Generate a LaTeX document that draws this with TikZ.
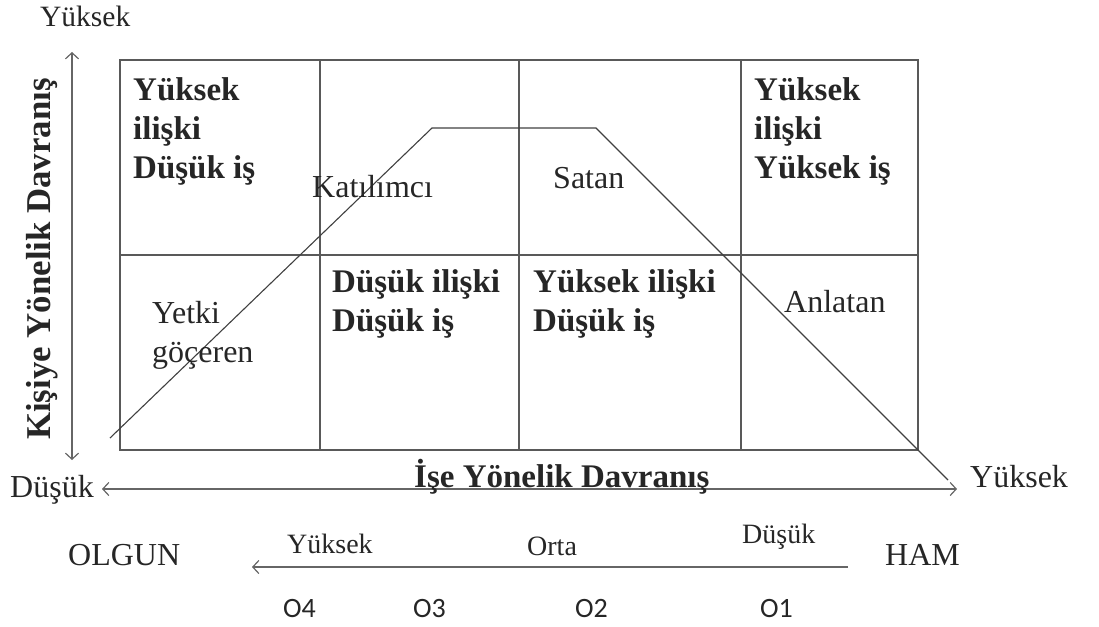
\documentclass[tikz,border=0pt]{standalone}
\usepackage{fontspec}
\setmainfont{Liberation Serif}
\newfontfamily\olabelfont{Carlito}
\usetikzlibrary{arrows.meta}

\begin{document}
\begin{tikzpicture}[x=1pt,y=-1pt,
  gridline/.style={draw=black!65, line width=1.6},
  axisline/.style={draw=black!60, line width=1.3},
  barb/.tip={Straight Barb[length=6,width=13,line width=1.2]},
  trendline/.style={draw=black!75, line width=1.1},
  lbl/.style={anchor=base west, text=black!85, font=\fontsize{32}{39}\selectfont},
  boldlbl/.style={lbl, align=left, font=\fontsize{33}{39}\selectfont\bfseries},
  olbl/.style={anchor=base west, text=black!85, font=\olabelfont\fontsize{28}{34}\selectfont}]
\tikzstyle{every node}+=[inner sep=0pt]
\useasboundingbox (0,0) rectangle (1099,626);

% grid of styles
\coordinate (nw) at (120,60);
\coordinate (se) at (918,450);
\draw [gridline] (nw) rectangle (se);
\draw [gridline] (120,255) -- (918,255);
\foreach \gx in {320,519,741}
  \draw [gridline] (\gx,60) -- (\gx,450);

% life cycle curve
\coordinate (curveA) at (110,438);
\coordinate (curveB) at (432,128);
\coordinate (curveC) at (596,128);
\coordinate (curveD) at (948,480);
\draw [trendline] (curveA) -- (curveB) -- (curveC) -- (curveD);

% axes
\node [lbl, font=\fontsize{29.5}{36}\selectfont] (ytop) at (40,27) {Yüksek};
\node [lbl] (xlow) at (10,497) {Düşük};
\node [lbl] (xhigh) at (970,487) {Yüksek};
\coordinate (yup) at (72,52);
\coordinate (ydown) at (72,460);
\coordinate (xleft) at (102,489);
\coordinate (xright) at (957,489);
\draw [axisline, barb-barb] (ydown) -- (yup);
\draw [axisline, barb-barb] (xleft) -- (xright);
\node [rotate=90, text=black!85, font=\fontsize{34.8}{40}\selectfont\bfseries]
  (yaxis) at (42,259) {Kişiye Yönelik Davranış};
\node [lbl, font=\fontsize{33}{39}\selectfont\bfseries] (xaxis) at (414,487) {İşe Yönelik Davranış};

% cells, upper row (base = last line)
\node [boldlbl] (iliskiDusukIs) at (133,178) {Yüksek\\ilişki\\Düşük iş};
\node [lbl] (katilimci) at (312,197) {Katılımcı};
\node [lbl] (satan) at (553,188) {Satan};
\node [boldlbl] (iliskiYuksekIs) at (754,178) {Yüksek\\ilişki\\Yüksek iş};

% cells, lower row
\node [lbl, align=left] (yetki) at (152,362) {Yetki\\göçeren};
\node [boldlbl] (dusukDusuk) at (332,331) {Düşük ilişki\\Düşük iş};
\node [boldlbl] (yuksekDusuk) at (533,331) {Yüksek ilişki\\Düşük iş};
\node [lbl] (anlatan) at (784,312) {Anlatan};

% maturity scale
\node [lbl] (olgun) at (68,565) {OLGUN};
\node [lbl] (ham) at (885,565) {HAM};
\node [lbl, font=\fontsize{28}{34}\selectfont] (olgYuksek) at (287,553) {Yüksek};
\node [lbl, font=\fontsize{28}{34}\selectfont] (olgOrta) at (527,555) {Orta};
\node [lbl, font=\fontsize{28}{34}\selectfont] (olgDusuk) at (742,543) {Düşük};
\coordinate (scaleR) at (848,567);
\coordinate (scaleL) at (252,567);
\draw [axisline, -barb] (scaleR) -- (scaleL);
\node [olbl] (oFour) at (283,617) {O4};
\node [olbl] (oThree) at (413,617) {O3};
\node [olbl] (oTwo) at (575,617) {O2};
\node [olbl] (oOne) at (760,617) {O1};
\end{tikzpicture}
\end{document}
